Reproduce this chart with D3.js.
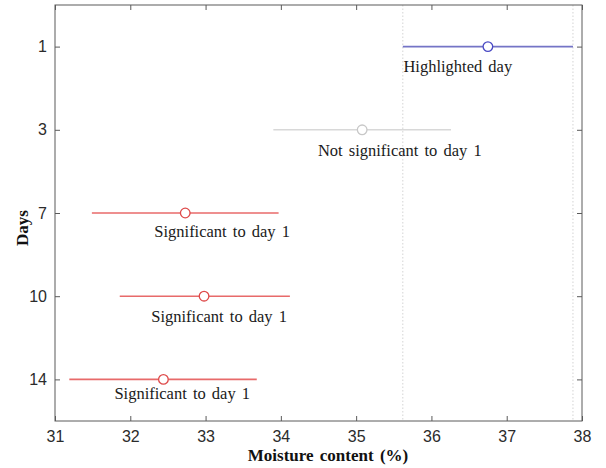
<!DOCTYPE html>
<html>
<head>
<meta charset="utf-8">
<script src="https://cdn.jsdelivr.net/npm/d3@7"></script>
<style>
  html, body { margin: 0; padding: 0; background: #fff; }
  svg { display: block; }
  .tick text { font-family: "Liberation Sans", Arial, sans-serif; font-size: 16px; fill: #2b2b2b; }
  .note { font-family: "Liberation Serif", "Times New Roman", serif; font-size: 16.5px; fill: #1a1a1a; word-spacing: 2px; }
  .title { font-family: "Liberation Serif", "Times New Roman", serif; font-size: 17px; font-weight: bold; fill: #111; word-spacing: 2px; }
</style>
</head>
<body>
<svg id="chart" width="606" height="468"></svg>
<script>
// Moisture content by storage day: group means with comparison intervals
const days   = ["1", "3", "7", "10", "14"];
const means  = [36.75, 35.08, 32.73, 32.98, 32.44];
const lower  = [35.62, 33.90, 31.49, 31.86, 31.19];
const upper  = [37.88, 36.26, 33.97, 34.12, 33.68];
const status = ["highlight", "ns", "sig", "sig", "sig"];

// Annotation text and anchors (x in %, y in group-index units)
const notes = ["Highlighted day", "Not significant to day 1", "Significant to day 1",
               "Significant to day 1", "Significant to day 1"];
const noteX = [36.35, 35.58, 33.22, 33.18, 32.69];
const noteY = [1.30, 2.31, 3.29, 4.31, 5.24];

const xTicks = [31, 32, 33, 34, 35, 36, 37, 38];

const lineColor   = { highlight: "#7474c6", ns: "#d8d8d8", sig: "#e86a6a" };
const markerColor = { highlight: "#4a4ac4", ns: "#c8c8c8", sig: "#de4a4a" };

const svg = d3.select("#chart");
const m = { left: 55, right: 582, top: 5, bottom: 421 };

const x = d3.scaleLinear().domain([31, 38]).range([m.left, m.right]);
// groups sit at index 1..n, top to bottom, with half a step of padding
const y = d3.scaleLinear().domain([0.5, days.length + 0.5]).range([m.top, m.bottom]);
const idx = days.map((d, i) => i + 1);

// reference lines at the highlighted group's interval limits
const hi = status.indexOf("highlight");
svg.append("g").selectAll("line")
  .data([lower[hi], upper[hi]])
  .join("line")
  .attr("x1", d => x(d)).attr("x2", d => x(d))
  .attr("y1", m.top).attr("y2", m.bottom)
  .attr("stroke", "#d4d4d4").attr("stroke-width", 1)
  .attr("stroke-dasharray", "1.5,2");

// axes with inward ticks on all four sides
const axisColor = "#5a5a5a";
function styleAxis(g) {
  g.select(".domain").remove();
  g.selectAll(".tick line").attr("stroke", axisColor);
}
svg.append("g")
  .attr("transform", `translate(0,${m.bottom})`)
  .call(d3.axisBottom(x).tickValues(xTicks).tickFormat(d3.format("d")).tickSizeInner(-5).tickPadding(10))
  .call(styleAxis);
svg.append("g")
  .attr("transform", `translate(0,${m.top})`)
  .call(d3.axisTop(x).tickValues(xTicks).tickFormat("").tickSizeInner(-5))
  .call(styleAxis);
svg.append("g")
  .attr("transform", `translate(${m.left},0)`)
  .call(d3.axisLeft(y).tickValues(idx).tickFormat((d, i) => days[i]).tickSizeInner(-5).tickPadding(8))
  .call(styleAxis);
svg.append("g")
  .attr("transform", `translate(${m.right},0)`)
  .call(d3.axisRight(y).tickValues(idx).tickFormat("").tickSizeInner(-5))
  .call(styleAxis);

svg.append("rect")
  .attr("x", m.left).attr("y", m.top)
  .attr("width", m.right - m.left).attr("height", m.bottom - m.top)
  .attr("fill", "none").attr("stroke", axisColor).attr("stroke-width", 1);

// interval bars and mean markers
const rows = days.map((d, i) => ({ i: i + 1, mean: means[i], lo: lower[i], up: upper[i], s: status[i] }));
svg.append("g").selectAll("line")
  .data(rows)
  .join("line")
  .attr("x1", d => x(d.lo)).attr("x2", d => x(d.up))
  .attr("y1", d => y(d.i)).attr("y2", d => y(d.i))
  .attr("stroke", d => lineColor[d.s]).attr("stroke-width", 1.6);
svg.append("g").selectAll("circle")
  .data(rows)
  .join("circle")
  .attr("cx", d => x(d.mean)).attr("cy", d => y(d.i))
  .attr("r", 4.8)
  .attr("fill", "#fff")
  .attr("stroke", d => markerColor[d.s]).attr("stroke-width", 1.3);

// annotations
svg.append("g").selectAll("text")
  .data(notes)
  .join("text")
  .attr("class", "note")
  .attr("x", (d, i) => x(noteX[i]))
  .attr("y", (d, i) => y(noteY[i]))
  .attr("text-anchor", "middle")
  .text(d => d);

// axis titles
svg.append("text")
  .attr("class", "title")
  .attr("x", 328).attr("y", 461)
  .attr("text-anchor", "middle")
  .text("Moisture content (%)");
svg.append("text")
  .attr("class", "title")
  .attr("transform", "translate(28,228) rotate(-90)")
  .attr("text-anchor", "middle")
  .text("Days");
</script>
</body>
</html>
